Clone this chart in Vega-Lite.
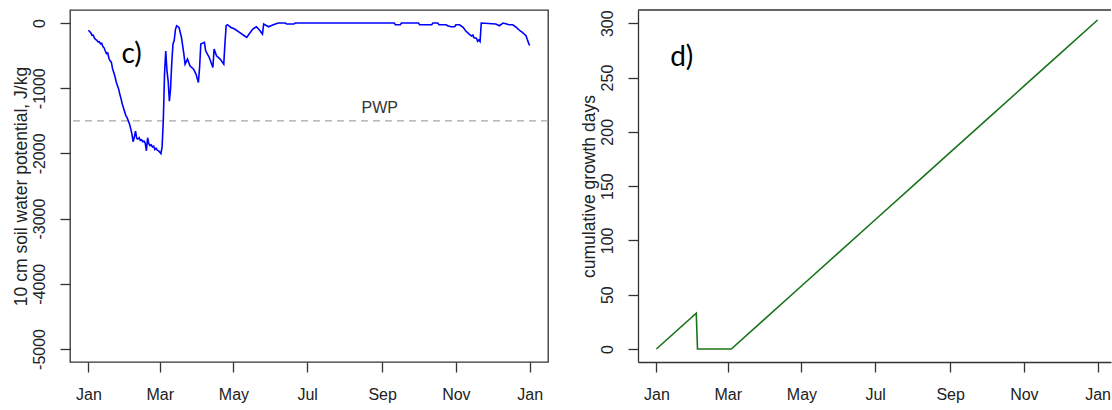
{
  "$schema": "https://vega.github.io/schema/vega-lite/v6.json",
  "padding": {"left": 11, "top": 9, "right": 0, "bottom": 0},
  "background": "white",
  "spacing": 30,
  "config": {
    "view": {"stroke": "#333333", "strokeWidth": 1.3},
    "axis": {"grid": false, "domain": false, "ticks": true, "tickSize": 10, "tickColor": "#333333", "tickWidth": 1.3,
      "labelFont": "Liberation Sans", "labelFontSize": 16, "labelColor": "#222222", "labelFlush": false, "labelOverlap": false,
      "titleFont": "Liberation Sans", "titleFontSize": 17.5, "titleFontWeight": "normal", "titleColor": "#222222"},
    "axisX": {"labelPadding": 14},
    "axisY": {"labelAngle": -90, "labelAlign": "center", "labelBaseline": "bottom", "labelPadding": 13, "titlePadding": 1}
  },
  "datasets": {
    "swp": [
      {"date": "2019-01-01", "psi": -110}, {"date": "2019-01-02", "psi": -130}, {"date": "2019-01-03", "psi": -150},
      {"date": "2019-01-04", "psi": -190}, {"date": "2019-01-05", "psi": -185}, {"date": "2019-01-06", "psi": -230},
      {"date": "2019-01-07", "psi": -250}, {"date": "2019-01-08", "psi": -265}, {"date": "2019-01-09", "psi": -290},
      {"date": "2019-01-10", "psi": -285}, {"date": "2019-01-11", "psi": -320}, {"date": "2019-01-12", "psi": -310},
      {"date": "2019-01-13", "psi": -360}, {"date": "2019-01-14", "psi": -380}, {"date": "2019-01-15", "psi": -430},
      {"date": "2019-01-16", "psi": -470}, {"date": "2019-01-17", "psi": -460}, {"date": "2019-01-18", "psi": -540},
      {"date": "2019-01-19", "psi": -580}, {"date": "2019-01-20", "psi": -600}, {"date": "2019-01-21", "psi": -700},
      {"date": "2019-01-22", "psi": -760}, {"date": "2019-01-23", "psi": -820}, {"date": "2019-01-24", "psi": -900},
      {"date": "2019-01-25", "psi": -960}, {"date": "2019-01-26", "psi": -1010}, {"date": "2019-01-27", "psi": -1090},
      {"date": "2019-01-28", "psi": -1160}, {"date": "2019-01-29", "psi": -1240}, {"date": "2019-01-30", "psi": -1300},
      {"date": "2019-01-31", "psi": -1360}, {"date": "2019-02-01", "psi": -1420}, {"date": "2019-02-02", "psi": -1450},
      {"date": "2019-02-03", "psi": -1500}, {"date": "2019-02-04", "psi": -1550}, {"date": "2019-02-05", "psi": -1620},
      {"date": "2019-02-06", "psi": -1700}, {"date": "2019-02-07", "psi": -1820}, {"date": "2019-02-08", "psi": -1750},
      {"date": "2019-02-09", "psi": -1660}, {"date": "2019-02-10", "psi": -1770}, {"date": "2019-02-11", "psi": -1780},
      {"date": "2019-02-12", "psi": -1760}, {"date": "2019-02-13", "psi": -1800}, {"date": "2019-02-14", "psi": -1790},
      {"date": "2019-02-15", "psi": -1820}, {"date": "2019-02-16", "psi": -1810}, {"date": "2019-02-17", "psi": -1840},
      {"date": "2019-02-18", "psi": -1960}, {"date": "2019-02-19", "psi": -1760}, {"date": "2019-02-20", "psi": -1850},
      {"date": "2019-02-21", "psi": -1880}, {"date": "2019-02-22", "psi": -1870}, {"date": "2019-02-23", "psi": -1900},
      {"date": "2019-02-24", "psi": -1890}, {"date": "2019-02-25", "psi": -1940}, {"date": "2019-02-26", "psi": -1920},
      {"date": "2019-02-27", "psi": -1950}, {"date": "2019-02-28", "psi": -1960}, {"date": "2019-03-01", "psi": -1980},
      {"date": "2019-03-02", "psi": -2003}, {"date": "2019-03-03", "psi": -1900}, {"date": "2019-03-04", "psi": -1480},
      {"date": "2019-03-05", "psi": -780}, {"date": "2019-03-06", "psi": -430}, {"date": "2019-03-07", "psi": -730},
      {"date": "2019-03-08", "psi": -890}, {"date": "2019-03-09", "psi": -1200}, {"date": "2019-03-10", "psi": -1000},
      {"date": "2019-03-11", "psi": -600}, {"date": "2019-03-12", "psi": -320}, {"date": "2019-03-13", "psi": -270},
      {"date": "2019-03-14", "psi": -100}, {"date": "2019-03-15", "psi": -41}, {"date": "2019-03-17", "psi": -68},
      {"date": "2019-03-19", "psi": -221}, {"date": "2019-03-21", "psi": -476}, {"date": "2019-03-22", "psi": -630},
      {"date": "2019-03-24", "psi": -553}, {"date": "2019-03-26", "psi": -656}, {"date": "2019-03-29", "psi": -707},
      {"date": "2019-03-31", "psi": -784}, {"date": "2019-04-02", "psi": -912}, {"date": "2019-04-03", "psi": -682},
      {"date": "2019-04-04", "psi": -323}, {"date": "2019-04-07", "psi": -297}, {"date": "2019-04-08", "psi": -426},
      {"date": "2019-04-11", "psi": -528}, {"date": "2019-04-14", "psi": -682}, {"date": "2019-04-15", "psi": -400},
      {"date": "2019-04-17", "psi": -502}, {"date": "2019-04-20", "psi": -553}, {"date": "2019-04-23", "psi": -630},
      {"date": "2019-04-24", "psi": -300}, {"date": "2019-04-25", "psi": -41}, {"date": "2019-04-26", "psi": -26},
      {"date": "2019-04-29", "psi": -68}, {"date": "2019-05-02", "psi": -92}, {"date": "2019-05-06", "psi": -144},
      {"date": "2019-05-10", "psi": -195}, {"date": "2019-05-12", "psi": -221}, {"date": "2019-05-14", "psi": -169},
      {"date": "2019-05-17", "psi": -92}, {"date": "2019-05-20", "psi": -57}, {"date": "2019-05-23", "psi": -118},
      {"date": "2019-05-25", "psi": -169}, {"date": "2019-05-26", "psi": -15}, {"date": "2019-05-30", "psi": -57},
      {"date": "2019-06-03", "psi": -26}, {"date": "2019-06-07", "psi": 0}, {"date": "2019-06-13", "psi": 0},
      {"date": "2019-06-14", "psi": -15}, {"date": "2019-06-20", "psi": -15}, {"date": "2019-06-21", "psi": 0},
      {"date": "2019-09-11", "psi": 0}, {"date": "2019-09-12", "psi": -26}, {"date": "2019-09-16", "psi": -26},
      {"date": "2019-09-17", "psi": 0}, {"date": "2019-10-01", "psi": 0}, {"date": "2019-10-02", "psi": -26},
      {"date": "2019-10-12", "psi": -26}, {"date": "2019-10-13", "psi": 0}, {"date": "2019-10-17", "psi": 0},
      {"date": "2019-10-18", "psi": -26}, {"date": "2019-10-24", "psi": -26}, {"date": "2019-10-25", "psi": -41},
      {"date": "2019-10-28", "psi": -56}, {"date": "2019-10-31", "psi": -56}, {"date": "2019-11-01", "psi": -26},
      {"date": "2019-11-04", "psi": -26}, {"date": "2019-11-07", "psi": -67}, {"date": "2019-11-09", "psi": -118},
      {"date": "2019-11-12", "psi": -169}, {"date": "2019-11-14", "psi": -200}, {"date": "2019-11-15", "psi": -185},
      {"date": "2019-11-16", "psi": -225}, {"date": "2019-11-18", "psi": -231}, {"date": "2019-11-19", "psi": -280},
      {"date": "2019-11-20", "psi": -260}, {"date": "2019-11-21", "psi": -285}, {"date": "2019-11-22", "psi": 0},
      {"date": "2019-12-04", "psi": -15}, {"date": "2019-12-07", "psi": -41}, {"date": "2019-12-10", "psi": 0},
      {"date": "2019-12-13", "psi": -15}, {"date": "2019-12-15", "psi": -26}, {"date": "2019-12-18", "psi": -26},
      {"date": "2019-12-21", "psi": -67}, {"date": "2019-12-24", "psi": -118}, {"date": "2019-12-26", "psi": -144},
      {"date": "2019-12-29", "psi": -195}, {"date": "2019-12-30", "psi": -250}, {"date": "2019-12-31", "psi": -300},
      {"date": "2020-01-01", "psi": -345}
    ],
    "gdd": [
      {"date": "2019-01-01", "days": 0}, {"date": "2019-02-03", "days": 33}, {"date": "2019-02-04", "days": 0},
      {"date": "2019-03-04", "days": 0}, {"date": "2019-04-01", "days": 28}, {"date": "2019-05-01", "days": 58},
      {"date": "2019-06-01", "days": 89}, {"date": "2019-07-01", "days": 119}, {"date": "2019-08-01", "days": 150},
      {"date": "2019-09-01", "days": 181}, {"date": "2019-10-01", "days": 211}, {"date": "2019-11-01", "days": 242},
      {"date": "2019-12-01", "days": 272}, {"date": "2020-01-01", "days": 303}
    ]
  },
  "hconcat": [
    {
      "width": 478,
      "height": 352,
      "layer": [
        {
          "data": {"values": [{}]},
          "mark": {"type": "rule", "color": "#a8a8a8", "strokeWidth": 1.3, "strokeDash": [7, 5]},
          "encoding": {"y": {"datum": -1500, "type": "quantitative"}}
        },
        {
          "data": {"name": "swp"},
          "mark": {"type": "line", "color": "#0000ff", "strokeWidth": 1.6, "clip": true},
          "encoding": {
            "x": {"field": "date", "type": "temporal",
              "scale": {"type": "utc", "nice": false, "domain": [
                {"year": 2018, "month": 12, "date": 16, "hours": 19, "minutes": 12, "utc": true},
                {"year": 2020, "month": 1, "date": 16, "hours": 4, "minutes": 48, "utc": true}]},
              "axis": {"title": null, "labelExpr": "utcFormat(datum.value, '%b')", "values": [
                {"year": 2019, "month": 1, "date": 1, "utc": true}, {"year": 2019, "month": 3, "date": 1, "utc": true},
                {"year": 2019, "month": 5, "date": 1, "utc": true}, {"year": 2019, "month": 7, "date": 1, "utc": true},
                {"year": 2019, "month": 9, "date": 1, "utc": true}, {"year": 2019, "month": 11, "date": 1, "utc": true},
                {"year": 2020, "month": 1, "date": 1, "utc": true}]}},
            "y": {"field": "psi", "type": "quantitative",
              "scale": {"domain": [-5200, 200], "nice": false, "zero": false},
              "axis": {"title": "10 cm soil water potential, J/kg", "values": [0, -1000, -2000, -3000, -4000, -5000], "labelExpr": "'' + datum.value"}}
          }
        },
        {
          "data": {"values": [{}]},
          "mark": {"type": "text", "text": "PWP", "font": "Liberation Sans", "fontSize": 16, "color": "#333333", "align": "center", "baseline": "alphabetic"},
          "encoding": {
            "x": {"datum": {"year": 2019, "month": 8, "date": 30, "utc": true}, "type": "temporal"},
            "y": {"datum": -1374, "type": "quantitative"}
          }
        },
        {
          "data": {"values": [{}]},
          "mark": {"type": "text", "text": "c)", "font": "Lato", "fontSize": 28, "color": "#000000", "align": "center", "baseline": "alphabetic"},
          "encoding": {
            "x": {"datum": {"year": 2019, "month": 2, "date": 5, "hours": 19, "utc": true}, "type": "temporal"},
            "y": {"datum": -610, "type": "quantitative"}
          }
        }
      ]
    },
    {
      "width": 473,
      "height": 352,
      "view": {"stroke": null},
      "layer": [
        {
          "data": {"values": [{}]},
          "mark": {"type": "rule", "color": "#333333", "strokeWidth": 1.3},
          "encoding": {"y": {"datum": 312.2, "type": "quantitative"}}
        },
        {
          "data": {"name": "gdd"},
          "mark": {"type": "line", "color": "#1a741a", "strokeWidth": 1.6, "clip": true},
          "encoding": {
            "x": {"field": "date", "type": "temporal",
              "scale": {"type": "utc", "nice": false, "domain": [
                {"year": 2018, "month": 12, "date": 16, "hours": 19, "minutes": 12, "utc": true},
                {"year": 2020, "month": 1, "date": 12, "hours": 2, "utc": true}]},
              "axis": {"title": null, "labelExpr": "utcFormat(datum.value, '%b')", "domain": true, "domainColor": "#333333", "domainWidth": 1.3, "values": [
                {"year": 2019, "month": 1, "date": 1, "utc": true}, {"year": 2019, "month": 3, "date": 1, "utc": true},
                {"year": 2019, "month": 5, "date": 1, "utc": true}, {"year": 2019, "month": 7, "date": 1, "utc": true},
                {"year": 2019, "month": 9, "date": 1, "utc": true}, {"year": 2019, "month": 11, "date": 1, "utc": true},
                {"year": 2020, "month": 1, "date": 1, "utc": true}]}},
            "y": {"field": "days", "type": "quantitative",
              "scale": {"domain": [-12, 312.2], "nice": false, "zero": false},
              "axis": {"title": "cumulative growth days", "domain": true, "domainColor": "#333333", "domainWidth": 1.3, "values": [0, 50, 100, 150, 200, 250, 300]}}
          }
        },
        {
          "data": {"values": [{}]},
          "mark": {"type": "text", "text": "d)", "font": "Lato", "fontSize": 28, "color": "#000000", "align": "center", "baseline": "alphabetic"},
          "encoding": {
            "x": {"datum": {"year": 2019, "month": 1, "date": 22, "utc": true}, "type": "temporal"},
            "y": {"datum": 260.7, "type": "quantitative"}
          }
        }
      ]
    }
  ]
}
